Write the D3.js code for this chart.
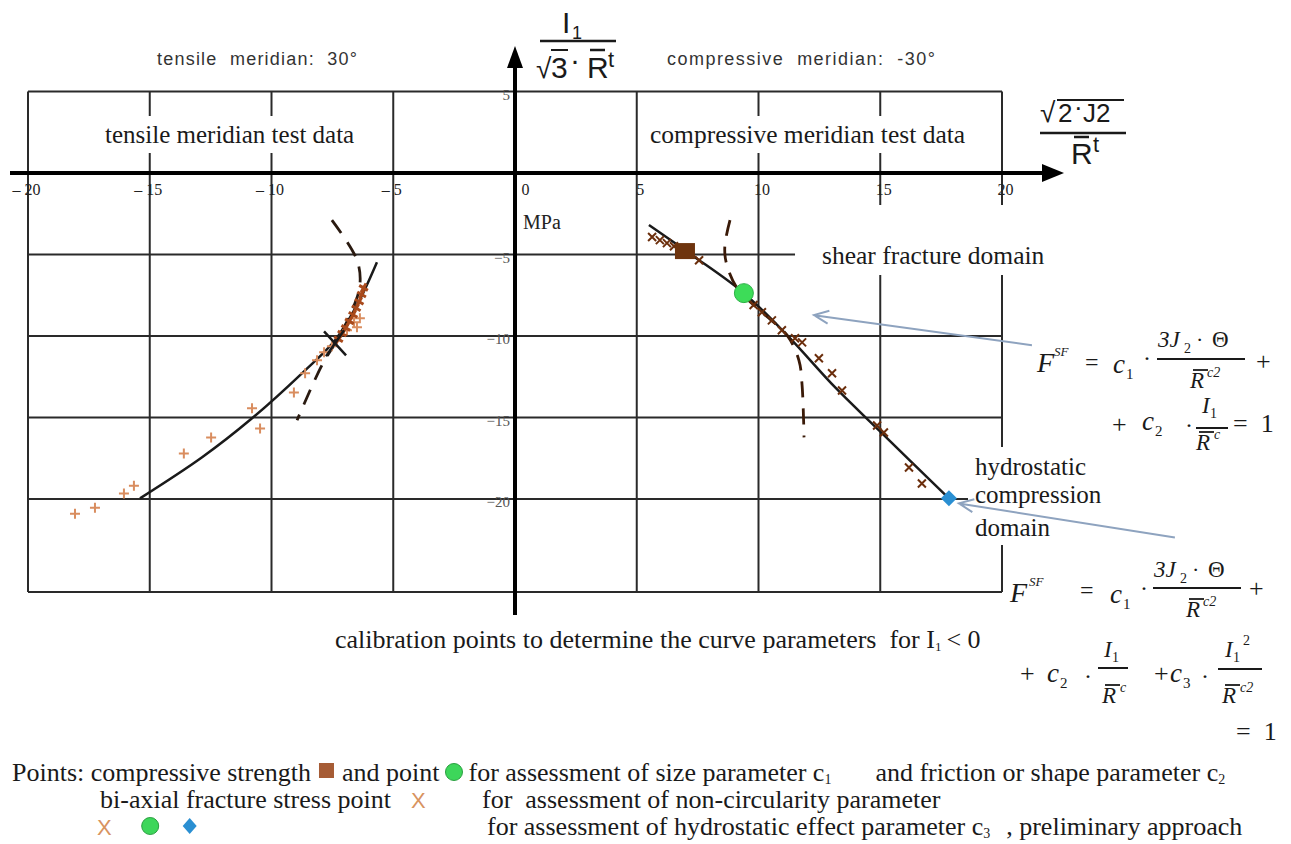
<!DOCTYPE html>
<html><head><meta charset="utf-8">
<script src="https://cdn.jsdelivr.net/npm/d3@7"></script>
<style>body{margin:0;background:#fff}svg{display:block}text{white-space:pre}</style>
</head><body>
<svg id="c" width="1291" height="844"></svg>
<script>
// ---------- data ----------
const xTicks = [-20,-15,-10,-5,0,5,10,15,20];
const yTicks = [5,-5,-10,-15,-20];
const tensileCurve = [[-15.40,-19.96],[-12.85,-17.44],[-10.80,-15.05],[-8.75,-12.29],[-7.39,-10.26],[-6.49,-8.11],[-5.67,-5.47]];
const compressiveCurve = [[5.50,-3.19],[7.27,-5.04],[9.40,-7.37],[11.25,-10.07],[13.14,-13.14],[14.95,-15.79],[17.82,-19.96]];
const tensileDashed = [[-7.52,-2.89],[-6.49,-5.34],[-6.37,-6.88],[-6.69,-8.42],[-7.31,-10.26],[-7.93,-11.79],[-8.95,-15.17]];
const compressiveDashed = [[8.83,-2.89],[8.62,-4.42],[8.67,-5.47],[9.12,-7.06],[10.14,-8.54],[11.17,-9.95],[11.66,-11.49],[11.79,-13.02],[11.87,-16.22]];
const tensileTests = [[-18.07,-20.9],[-17.25,-20.53],[-16.06,-19.67],[-15.65,-19.18],[-13.6,-17.21],[-12.48,-16.23],[-10.8,-14.44],[-10.47,-15.67],[-9.08,-13.46],[-8.62,-12.29],[-8.13,-11.49],[-7.84,-11.0],[-7.52,-10.63],[-6.9,-9.65],[-6.61,-9.16],[-6.37,-8.91],[-6.49,-9.47]];
const tensileDense = [[-7.25,-10.2],[-7.1,-9.85],[-6.95,-9.5],[-6.8,-9.1],[-6.65,-8.7],[-6.52,-8.3],[-6.4,-7.9],[-6.3,-7.45],[-6.22,-7.05]];
const compressiveTests = [[5.63,-3.93],[5.95,-4.12],[6.24,-4.3],[6.53,-4.49],[7.1,-4.9],[7.56,-5.35],[9.8,-8.1],[10.14,-8.54],[10.55,-9.04],[10.96,-9.65],[11.5,-10.14],[11.79,-10.39],[12.48,-11.37],[13.02,-12.29],[13.43,-13.34],[14.87,-15.49],[15.15,-15.92],[16.18,-18.07],[16.71,-19.05]];
const compressiveStrength = [[6.98,-4.79]];
const sizePoint = [[9.40,-7.37]];
const biaxialPoint = [[-7.39,-10.45]];
const hydroPoint = [[17.82,-19.96]];
const hGrid = [[5,-20,20],[-5,-20,11.5],[-10,-20,20],[-15,-20,20],[-20,-20,20],[-25.7,-20,20]];
const vGrid = [-20,-15,-10,-5,5,10,15,20];
const arrows = [[[21.23,-10.57],[12.28,-8.72]],[[27.1,-22.36],[18.23,-20.27]]];

// ---------- scales ----------
const svg = d3.select('#c');
const x = d3.scaleLinear().domain([-20,20]).range([28,1002]);
const y = d3.scaleLinear().domain([0,-20]).range([173,499]);
const SERIF = "'Liberation Serif','Times New Roman',serif";
const SANS = "'Liberation Sans',Arial,sans-serif";

// ---------- grid ----------
const g = svg.append('g').attr('stroke','#2a2a2a').attr('stroke-width',2);
hGrid.forEach(h=>g.append('line').attr('x1',x(h[1])).attr('x2',x(h[2])).attr('y1',y(h[0])).attr('y2',y(h[0])));
vGrid.forEach(v=>g.append('line').attr('x1',x(v)).attr('x2',x(v)).attr('y1',y(5)).attr('y2',y(-25.7)));

// white label boxes
[[100,116,262,37],[645,116,328,37],[797,205,255,70],[968,447,130,98]].forEach(r=>
  svg.append('rect').attr('x',r[0]).attr('y',r[1]).attr('width',r[2]).attr('height',r[3]).attr('fill','#fff'));

// ---------- axes ----------
const ax = svg.append('g');
ax.append('line').attr('x1',10).attr('x2',1048).attr('y1',y(0)).attr('y2',y(0)).attr('stroke','#000').attr('stroke-width',4);
ax.append('polygon').attr('points',`1042,${y(0)-9} 1064,${y(0)} 1042,${y(0)+9}`).attr('fill','#000');
ax.append('line').attr('x1',x(0)).attr('x2',x(0)).attr('y1',615).attr('y2',62).attr('stroke','#000').attr('stroke-width',4);
ax.append('polygon').attr('points',`${x(0)-8},68 ${x(0)},46 ${x(0)+8},68`).attr('fill','#000');

const xa = svg.append('g').attr('transform',`translate(0,${y(0)})`)
  .call(d3.axisBottom(x).tickValues(xTicks).tickSize(0).tickPadding(11).tickFormat(d=>d<0?'– '+Math.abs(d):d));
xa.select('.domain').remove();
xa.selectAll('text').attr('font-family',SERIF).attr('font-size',16).attr('fill','#222')
  .attr('dx',d=>d===0?10:(d<0?-2:3));
const ya = svg.append('g').attr('transform',`translate(${x(0)-2},0)`)
  .call(d3.axisLeft(y).tickValues(yTicks).tickSize(0).tickPadding(3));
ya.select('.domain').remove();
ya.selectAll('text').attr('font-family',SERIF).attr('font-size',15).attr('fill','#555').attr('dy','0.5em');

// ---------- curves ----------
const line = d3.line().x(d=>x(d[0])).y(d=>y(d[1])).curve(d3.curveCatmullRom);
svg.append('path').attr('d',line(tensileCurve)).attr('fill','none').attr('stroke','#1a1a1a').attr('stroke-width',2.5);
svg.append('path').attr('d',line(compressiveCurve)).attr('fill','none').attr('stroke','#1a1a1a').attr('stroke-width',2.5);
svg.append('path').attr('d',line(tensileDashed)).attr('fill','none').attr('stroke','#2a1a10').attr('stroke-width',2.8).attr('stroke-dasharray','16 11');
svg.append('path').attr('d',line(compressiveDashed)).attr('fill','none').attr('stroke','#3a1a08').attr('stroke-width',2.8).attr('stroke-dasharray','16 11');

// markers
const plus = 'M-5,0H5M0,-5V5';
svg.append('g').selectAll('path').data(tensileTests).join('path')
  .attr('d',plus).attr('transform',d=>`translate(${x(d[0])},${y(d[1])})`)
  .attr('stroke','#d98d5f').attr('stroke-width',2).attr('fill','none');
svg.append('g').selectAll('path').data(tensileDense).join('path')
  .attr('d',plus).attr('transform',d=>`translate(${x(d[0])},${y(d[1])}) rotate(30)`)
  .attr('stroke','#a94a1c').attr('stroke-width',3).attr('fill','none');
svg.append('g').selectAll('path').data(compressiveTests).join('path')
  .attr('d','M-4,-4L4,4M-4,4L4,-4').attr('transform',d=>`translate(${x(d[0])},${y(d[1])})`)
  .attr('stroke','#6b2e0c').attr('stroke-width',2).attr('fill','none');
svg.append('g').selectAll('rect').data(compressiveStrength).join('rect')
  .attr('x',d=>x(d[0])-10).attr('y',d=>y(d[1])-8).attr('width',20).attr('height',16)
  .attr('fill','#6e340e');
svg.append('g').selectAll('circle').data(sizePoint).join('circle')
  .attr('cx',d=>x(d[0])).attr('cy',d=>y(d[1])).attr('r',9.5).attr('fill','#3ddc58').attr('stroke','#2cb046').attr('stroke-width',1);
svg.append('g').selectAll('path').data(biaxialPoint).join('path')
  .attr('d','M-11,-12L11,12M-9,13L9,-13').attr('transform',d=>`translate(${x(d[0])},${y(d[1])})`)
  .attr('stroke','#1a1a1a').attr('stroke-width',2.5);
svg.append('g').selectAll('path').data(hydroPoint).join('path')
  .attr('d','M0,-8L8,0L0,8L-8,0Z').attr('transform',d=>`translate(${x(d[0])},${y(d[1])})`)
  .attr('fill','#2a8fd2');

// annotation arrows
arrows.forEach(a=>{
  const x1=x(a[0][0]),y1=y(a[0][1]),x2=x(a[1][0]),y2=y(a[1][1]);
  const ang=Math.atan2(y1-y2,x1-x2), L=16, s=0.42;
  svg.append('path').attr('d',`M${x1},${y1}L${x2},${y2}M${x2+L*Math.cos(ang+s)},${y2+L*Math.sin(ang+s)}L${x2},${y2}L${x2+L*Math.cos(ang-s)},${y2+L*Math.sin(ang-s)}`)
    .attr('fill','none').attr('stroke','#8ea3bf').attr('stroke-width',2);
});

// ---------- text helpers ----------
function T(xp,yp,str,o={}){
  const t=svg.append('text').attr('x',xp).attr('y',yp).text(str)
    .attr('font-family',o.f||SERIF).attr('font-size',o.s||25).attr('fill',o.c||'#1a1a1a');
  if(o.i) t.attr('font-style','italic');
  if(o.a) t.attr('text-anchor',o.a);
  if(o.L) t.attr('textLength',o.L).attr('lengthAdjust','spacing');
  return t;
}
function HL(x1,x2,yy,w=2,c='#1a1a1a'){svg.append('line').attr('x1',x1).attr('x2',x2).attr('y1',yy).attr('y2',yy).attr('stroke',c).attr('stroke-width',w);}
function flow(x0,yb,items,size){
  let cx=x0;
  items.forEach(it=>{
    if(it.g){cx+=it.g;return;}
    if(it.sq){svg.append('rect').attr('x',cx).attr('y',yb-18).attr('width',15).attr('height',15).attr('fill','#a65c35');cx+=15;return;}
    if(it.ci){svg.append('circle').attr('cx',cx+8.5).attr('cy',yb-9).attr('r',8.5).attr('fill','#3dd65a').attr('stroke','#2aa040');cx+=17;return;}
    if(it.di){svg.append('path').attr('d',`M${cx+7},${yb-17}L${cx+14},${yb-9}L${cx+7},${yb-1}L${cx},${yb-9}Z`).attr('fill','#2a8fd2');cx+=14;return;}
    const t=T(cx,yb+(it.dy||0),it.t,{s:it.s||size,f:it.f,c:it.c});
    cx+=t.node().getComputedTextLength();
  });
  return cx;
}

// top labels
T(157,65,'tensile  meridian:  30°',{f:SANS,s:18,c:'#333',L:200});
T(667,65,'compressive  meridian:  -30°',{f:SANS,s:18,c:'#333',L:268});
T(105,143,'tensile meridian test data',{s:25});
T(650,143,'compressive meridian test data',{s:25.5});
T(822,264,'shear fracture domain',{s:25.5});
T(975,475,'hydrostatic',{});
T(975,503,'compression',{});
T(975,536,'domain',{});
T(523,229,'MPa',{s:20,c:'#222'});
flow(335,648,[{t:'calibration points to determine the curve parameters  for I'},{t:'1',s:13,dy:3},{g:5},{t:'< 0'}],26);

// y axis label
T(562,33,'I',{f:SANS,s:30});
T(572,39,'1',{f:SANS,s:18});
HL(540,616,41,2.5);
T(536,78,'√',{f:SANS,s:28});
T(551,78,'3',{f:SANS,s:30});
HL(551,568,50,2);
T(570,70,'·',{f:SANS,s:30});
T(587,78,'R',{f:SANS,s:30});
HL(590,605,50,2.5);
T(608,67,'t',{f:SANS,s:22});

// x axis label
T(1040,122,'√',{f:SANS,s:28});
HL(1057,1124,100,2);
T(1058,122,'2',{f:SANS,s:26});
T(1074,116,'·',{f:SANS,s:26});
T(1083,122,'J2',{f:SANS,s:26});
HL(1040,1126,133,2.5);
T(1071,164,'R',{f:SANS,s:30});
HL(1074,1089,137,2.5);
T(1093,152,'t',{f:SANS,s:22});

// formula 1
T(1037,372,'F',{i:1,s:28});
T(1054,356,'SF',{i:1,s:13});
T(1085,370,'=',{s:24});
T(1113,373,'c',{i:1,s:27});
T(1126,379,'1',{s:15});
T(1143,366,'·',{s:24});
T(1158,347,'3J',{i:1,s:23});
T(1184,353,'2',{s:14});
T(1196,347,'·',{s:22});
T(1212,347,'Θ',{s:23});
HL(1157,1245,359,2);
T(1190,388,'R',{i:1,s:23});
HL(1193,1208,370,1.8);
T(1207,377,'c2',{i:1,s:14});
T(1256,370,'+',{s:26});
T(1112,433,'+',{s:26});
T(1142,430,'c',{i:1,s:27});
T(1155,436,'2',{s:15});
T(1185,433,'·',{s:24});
T(1202,413,'I',{i:1,s:23});
T(1210,418,'1',{s:14});
HL(1196,1228,428,2);
T(1196,450,'R',{i:1,s:23});
HL(1199,1214,432,1.8);
T(1214,439,'c',{i:1,s:14});
T(1233,432,'=  1',{s:26});

// formula 2
T(1010,602,'F',{i:1,s:28});
T(1029,586,'SF',{i:1,s:13});
T(1080,598,'=',{s:24});
T(1110,603,'c',{i:1,s:27});
T(1123,609,'1',{s:15});
T(1140,596,'·',{s:24});
T(1154,577,'3J',{i:1,s:23});
T(1180,583,'2',{s:14});
T(1192,577,'·',{s:22});
T(1208,577,'Θ',{s:23});
HL(1153,1241,588,2);
T(1186,617,'R',{i:1,s:23});
HL(1189,1204,599,1.8);
T(1203,606,'c2',{i:1,s:14});
T(1249,597,'+',{s:26});
T(1020,682,'+',{s:26});
T(1047,682,'c',{i:1,s:27});
T(1060,688,'2',{s:15});
T(1084,684,'·',{s:24});
T(1104,657,'I',{i:1,s:23});
T(1112,662,'1',{s:14});
HL(1098,1128,668,2);
T(1102,703,'R',{i:1,s:23});
HL(1105,1120,685,1.8);
T(1120,692,'c',{i:1,s:14});
T(1154,682,'+',{s:26});
T(1170,682,'c',{i:1,s:27});
T(1183,688,'3',{s:15});
T(1201,684,'·',{s:24});
T(1225,657,'I',{i:1,s:23});
T(1233,662,'1',{s:14});
T(1243,645,'2',{s:14});
HL(1218,1262,669,2);
T(1222,703,'R',{i:1,s:23});
HL(1225,1240,685,1.8);
T(1240,692,'c2',{i:1,s:14});
T(1236,740,'=  1',{s:26});

// legend
flow(12,781,[{t:'Points: compressive strength'},{g:8},{sq:1},{g:8},{t:'and point'},{g:6},{ci:1},{g:6},
  {t:'for assessment of size parameter c'},{t:'1',s:14,dy:3},{g:44},{t:'and friction or shape parameter c'},{t:'2',s:14,dy:3}],26);
flow(100,808,[{t:'bi-axial fracture stress point'},{g:20},{t:'X',f:SANS,s:22,c:'#d8935f'}],26);
flow(482,808,[{t:'for  assessment of non-circularity parameter'}],26);
flow(97,835,[{t:'X',f:SANS,s:22,c:'#d8935f'},{g:30},{ci:1},{g:24},{di:1}],26);
flow(487,835,[{t:'for assessment of hydrostatic effect parameter c'},{t:'3',s:14,dy:3},{g:16},{t:', preliminary approach'}],26);
</script>
</body></html>
